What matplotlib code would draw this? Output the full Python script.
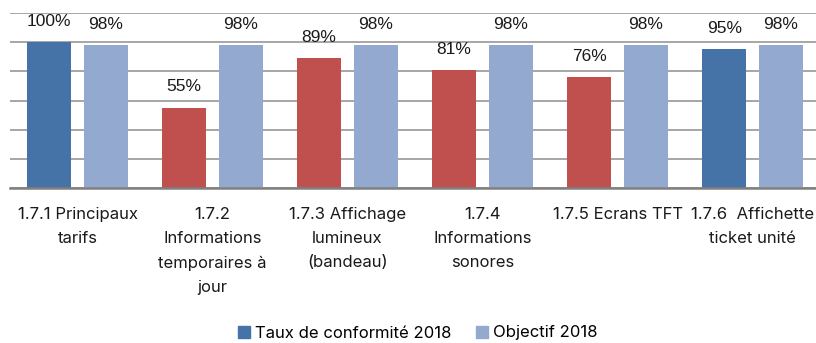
import matplotlib.pyplot as plt
from matplotlib.patches import Patch

categories = [
    "1.7.1 Principaux\ntarifs",
    "1.7.2\nInformations\ntemporaires à\njour",
    "1.7.3 Affichage\nlumineux\n(bandeau)",
    "1.7.4\nInformations\nsonores",
    "1.7.5 Ecrans TFT",
    "1.7.6  Affichette\nticket unité",
]
taux_2018 = [100, 55, 89, 81, 76, 95]
objectif_2018 = [98, 98, 98, 98, 98, 98]

BLUE = '#4572A7'
RED = '#C0504D'
LIGHT = '#94A9CF'

fig = plt.figure(figsize=(8.16, 3.43), dpi=100)
W, H = 816, 343
ax = fig.add_axes([10 / W, 155 / H, 806 / W, 175 / H])

x = range(len(categories))
bw = 0.33
off = 0.21

# below-target rates are shown in red
bar_colors = [BLUE if v >= objectif_2018[i] - 5 else RED for i, v in enumerate(taux_2018)]

ax.bar([i - off for i in x], taux_2018, width=bw, color=bar_colors, zorder=3)
ax.bar([i + off for i in x], objectif_2018, width=bw, color=LIGHT, zorder=3)

for i in x:
    ax.annotate(f"{taux_2018[i]}%", (i - off, taux_2018[i]), xytext=(0, 15),
                textcoords='offset points', ha='center', va='center',
                fontsize=12.5, family='Liberation Sans', color='#1a1a1a')
    ax.annotate(f"{objectif_2018[i]}%", (i + off, objectif_2018[i]), xytext=(0, 15),
                textcoords='offset points', ha='center', va='center',
                fontsize=12.5, family='Liberation Sans', color='#1a1a1a')

ax.set_ylim(0, 120)
ax.set_xlim(-0.5, 5.47)
ax.set_yticks(range(0, 121, 20))
ax.yaxis.grid(True, color='#A6A6A6', linewidth=1.4, zorder=0)
ax.tick_params(axis='y', left=False, labelleft=False)
for s in ['top', 'right', 'left']:
    ax.spines[s].set_visible(False)
ax.spines['bottom'].set_color('#808080')
ax.spines['bottom'].set_linewidth(1.8)
ax.spines['bottom'].set_zorder(4)

ax.set_xticks(list(x))
ax.set_xticklabels(categories, family='Inter', fontsize=12, linespacing=1.75,
                   color='#1a1a1a')
ax.tick_params(axis='x', length=0, pad=14)

handles = [Patch(color=BLUE, label='Taux de conformité 2018'),
           Patch(color=LIGHT, label='Objectif 2018')]
fig.legend(handles=handles, loc='center', bbox_to_anchor=(418 / W, 1 - 333 / H),
           ncol=2, frameon=False, prop={'family': 'Inter', 'size': 12},
           handlelength=0.7, handleheight=0.7, handletextpad=0.3, columnspacing=1.5)

fig.savefig('out.png', dpi=100)
